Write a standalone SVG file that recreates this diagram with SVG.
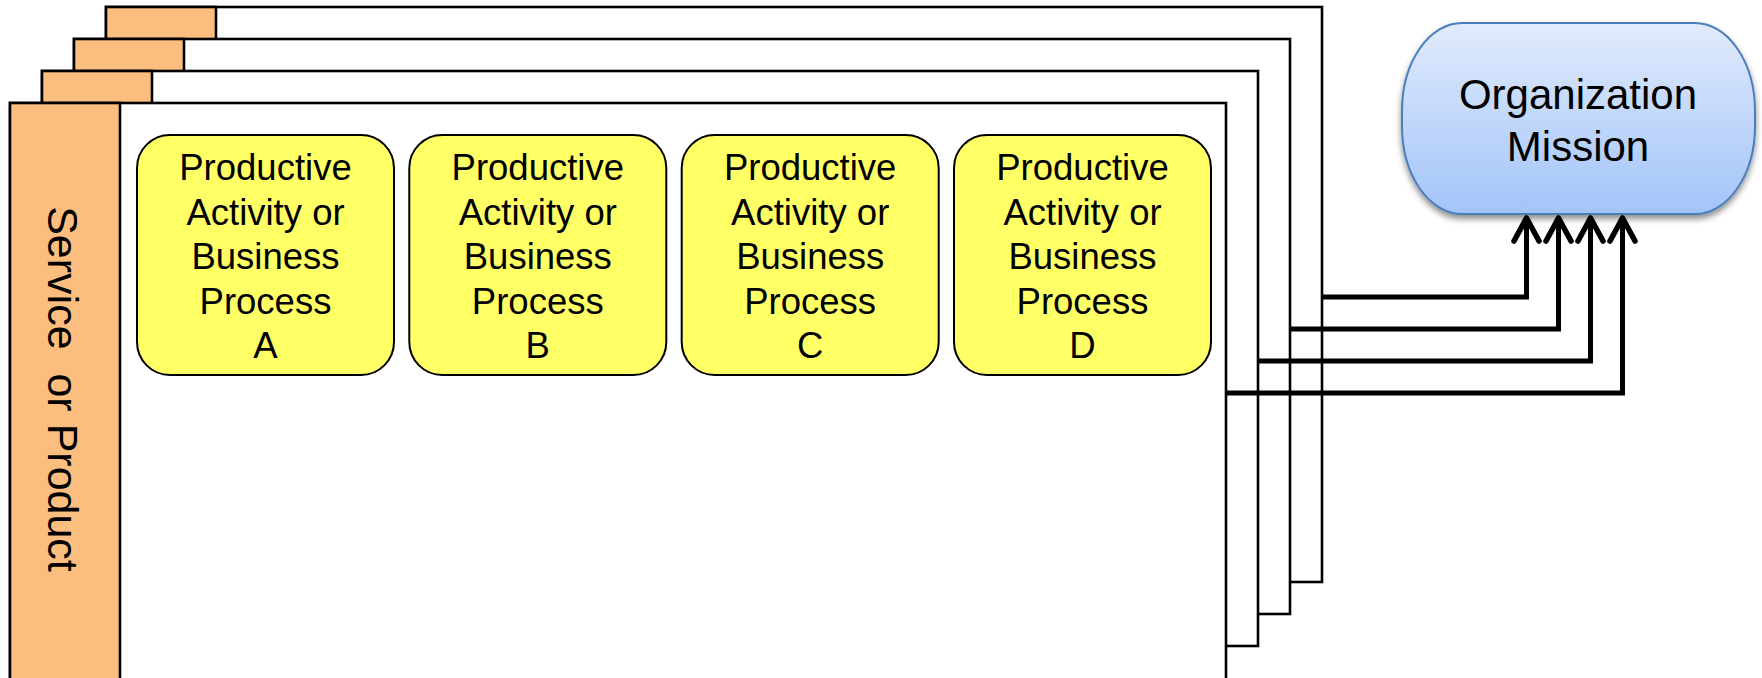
<svg xmlns="http://www.w3.org/2000/svg" width="1762" height="678" viewBox="0 0 1762 678">
<style>
.frame{fill:#fff;stroke:#000;stroke-width:2.6}
.tab{fill:#FBBE7E;stroke:#000;stroke-width:2.6}
.box{fill:#FFFF66;stroke:#000;stroke-width:2}
.bt{font-family:"Liberation Sans",Arial,sans-serif;font-size:36.5px;fill:#000;text-anchor:middle}
.conn{fill:none;stroke:#000;stroke-width:5;stroke-linejoin:miter}
</style>
<defs>
<linearGradient id="blue" x1="0" y1="0" x2="0" y2="1">
<stop offset="0" stop-color="#E1EBFC"/>
<stop offset="1" stop-color="#A3C4F9"/>
</linearGradient>
<filter id="sh" x="-10%" y="-10%" width="120%" height="130%">
<feDropShadow dx="0" dy="4" stdDeviation="3" flood-color="#000" flood-opacity="0.45"/>
</filter>
<marker id="arr" markerUnits="userSpaceOnUse" markerWidth="40" markerHeight="40" viewBox="-30 -20 40 40" refX="0" refY="0" orient="auto" overflow="visible">
<path d="M-23,-12.5 L0,0 L-23,12.5" fill="none" stroke="#000" stroke-width="5.5" stroke-linecap="round" stroke-linejoin="round"/>
</marker>
</defs>
<rect width="1762" height="678" fill="#fff"/>
<g id="frame4">
<rect class="frame" x="106" y="7" width="1216" height="575"/>
<rect class="tab" x="106" y="7" width="110" height="575"/>
</g>
<g id="frame3">
<rect class="frame" x="74" y="39" width="1216" height="575"/>
<rect class="tab" x="74" y="39" width="110" height="575"/>
</g>
<g id="frame2">
<rect class="frame" x="42" y="71" width="1216" height="575"/>
<rect class="tab" x="42" y="71" width="110" height="575"/>
</g>
<g id="frame1">
<rect class="frame" x="10" y="103" width="1216" height="620"/>
<rect class="tab" x="10" y="103" width="110" height="620"/>
<text transform="translate(48,389) rotate(90)" font-family="'Liberation Sans',Arial,sans-serif" font-size="43" text-anchor="middle" fill="#000" xml:space="preserve">Service  or Product</text>
</g>
<g id="procA">
<rect class="box" x="137" y="135" width="257" height="240" rx="33"/>
<text class="bt"><tspan x="265.5" y="180">Productive</tspan><tspan x="265.5" y="224.5">Activity or</tspan><tspan x="265.5" y="269">Business</tspan><tspan x="265.5" y="313.5">Process</tspan><tspan x="265.5" y="358">A</tspan></text>
</g>
<g id="procB">
<rect class="box" x="409.3" y="135" width="257" height="240" rx="33"/>
<text class="bt"><tspan x="537.8" y="180">Productive</tspan><tspan x="537.8" y="224.5">Activity or</tspan><tspan x="537.8" y="269">Business</tspan><tspan x="537.8" y="313.5">Process</tspan><tspan x="537.8" y="358">B</tspan></text>
</g>
<g id="procC">
<rect class="box" x="681.7" y="135" width="257" height="240" rx="33"/>
<text class="bt"><tspan x="810.2" y="180">Productive</tspan><tspan x="810.2" y="224.5">Activity or</tspan><tspan x="810.2" y="269">Business</tspan><tspan x="810.2" y="313.5">Process</tspan><tspan x="810.2" y="358">C</tspan></text>
</g>
<g id="procD">
<rect class="box" x="954" y="135" width="257" height="240" rx="33"/>
<text class="bt"><tspan x="1082.5" y="180">Productive</tspan><tspan x="1082.5" y="224.5">Activity or</tspan><tspan x="1082.5" y="269">Business</tspan><tspan x="1082.5" y="313.5">Process</tspan><tspan x="1082.5" y="358">D</tspan></text>
</g>
<g id="mission">
<rect x="1402" y="23" width="353" height="191" rx="60" ry="88" fill="url(#blue)" stroke="#4A7EBB" stroke-width="2" filter="url(#sh)"/>
<text font-family="'Liberation Sans',Arial,sans-serif" font-size="42" text-anchor="middle" fill="#000"><tspan x="1578" y="109">Organization</tspan><tspan x="1578" y="160.5">Mission</tspan></text>
</g>
<g id="connectors">
<path class="conn" d="M1322,297 H1526.5 V218" marker-end="url(#arr)"/>
<path class="conn" d="M1290,329 H1558.5 V218" marker-end="url(#arr)"/>
<path class="conn" d="M1258,361 H1590.5 V218" marker-end="url(#arr)"/>
<path class="conn" d="M1226,393 H1622.5 V218" marker-end="url(#arr)"/>
</g>
</svg>
